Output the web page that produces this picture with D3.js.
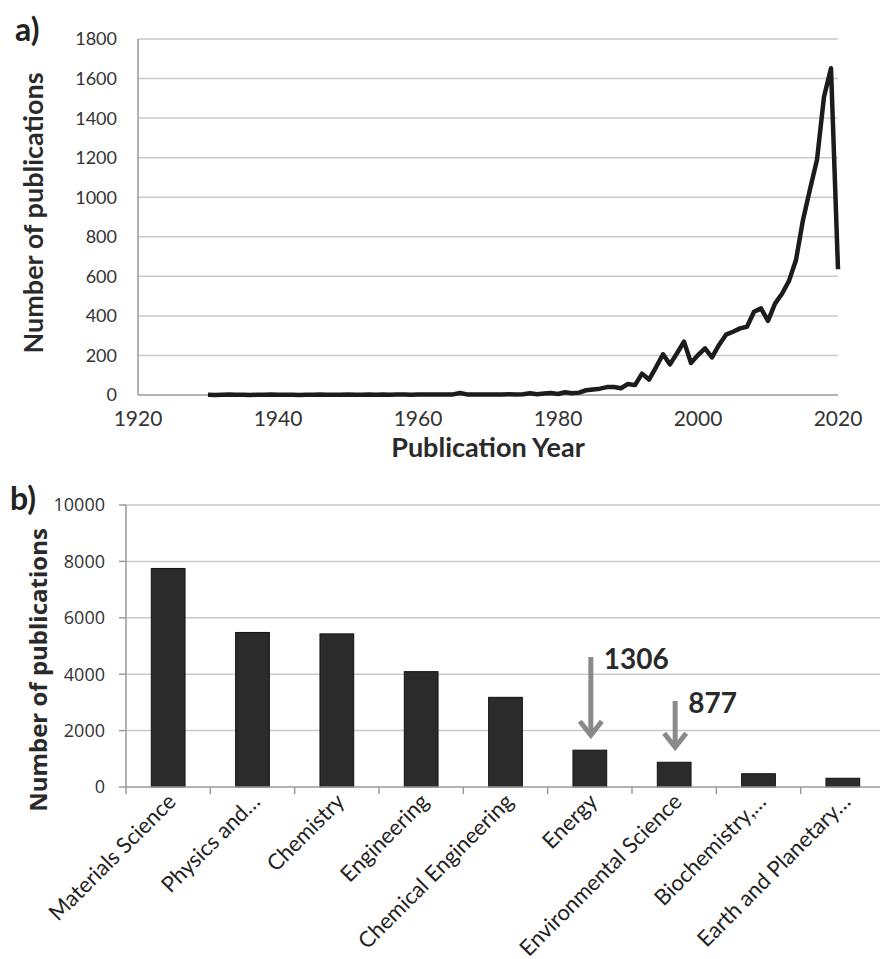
<!DOCTYPE html>
<html>
<head>
<meta charset="utf-8">
<script src="https://cdn.jsdelivr.net/npm/d3@7.9.0/dist/d3.min.js"></script>
<style>
  body { margin: 0; background: #fff; }
  svg { display: block; }
</style>
</head>
<body>
<svg id="chart" width="880" height="959"></svg>
<script>
// ---- data: panel a (publications per year) ----
const years = [
  1930, 1931, 1932, 1933, 1934, 1935, 1936, 1937, 1938, 1939,
  1940, 1941, 1942, 1943, 1944, 1945, 1946, 1947, 1948, 1949,
  1950, 1951, 1952, 1953, 1954, 1955, 1956, 1957, 1958, 1959,
  1960, 1961, 1962, 1963, 1964, 1965, 1966, 1967, 1968, 1969,
  1970, 1971, 1972, 1973, 1974, 1975, 1976, 1977, 1978, 1979,
  1980, 1981, 1982, 1983, 1984, 1985, 1986, 1987, 1988, 1989,
  1990, 1991, 1992, 1993, 1994, 1995, 1996, 1997, 1998, 1999,
  2000, 2001, 2002, 2003, 2004, 2005, 2006, 2007, 2008, 2009,
  2010, 2011, 2012, 2013, 2014, 2015, 2016, 2017, 2018, 2019,
  2020
];
const pubsPerYear = [
  1, 0, 1, 2, 1, 1, 0, 1, 1, 2,
  1, 1, 1, 0, 1, 1, 2, 1, 1, 1,
  2, 1, 1, 2, 1, 2, 1, 2, 2, 1,
  2, 2, 3, 2, 3, 3, 10, 3, 2, 3,
  2, 3, 3, 4, 3, 4, 9, 4, 8, 10,
  5, 14, 9, 12, 24, 28, 32, 40, 40, 34,
  56, 50, 108, 78, 140, 206, 155, 211, 270, 162,
  202, 236, 190, 253, 305, 320, 337, 345, 421, 438,
  375, 462, 512, 577, 683, 885, 1040, 1190, 1508, 1652,
  636
];
const yearTicks = [1920, 1940, 1960, 1980, 2000, 2020];
const countTicksA = [0, 200, 400, 600, 800, 1000, 1200, 1400, 1600, 1800];

// ---- data: panel b (publications per subject area) ----
const subjects = [
  "Materials Science", "Physics and\u2026", "Chemistry", "Engineering",
  "Chemical Engineering", "Energy", "Environmental Science",
  "Biochemistry,\u2026", "Earth and Planetary\u2026"
];
const subjectCounts = [7750, 5480, 5430, 4090, 3180, 1306, 877, 470, 310];
const countTicksB = [0, 2000, 4000, 6000, 8000, 10000];
const calloutSubjects = ["Energy", "Environmental Science"];
const calloutLabels = ["1306", "877"];
const calloutFrom = [4610, 3050];

const svg = d3.select('#chart');
const gridColor = '#c9c9c9';
const axisColor = '#9a9a9a';
const gill = 'Lato, "Open Sans", sans-serif';
const calibri = '"Open Sans", Lato, sans-serif';

// ================= panel a =================
const xA = d3.scaleLinear().domain([1920, 2020]).range([138, 838]);
const yA = d3.scaleLinear().domain([0, 1800]).range([395, 39]);

const gA = svg.append('g');

gA.selectAll('line.grid')
  .data(countTicksA.filter(d => d > 0))
  .join('line')
  .attr('class', 'grid')
  .attr('x1', xA(1920)).attr('x2', xA(2020))
  .attr('y1', d => yA(d)).attr('y2', d => yA(d))
  .attr('stroke', gridColor).attr('stroke-width', 1.5);

// axis lines
gA.append('line')
  .attr('x1', xA(1920)).attr('x2', xA(1920))
  .attr('y1', yA(1800)).attr('y2', yA(0))
  .attr('stroke', axisColor).attr('stroke-width', 1.5);
gA.append('line')
  .attr('x1', xA(1920)).attr('x2', xA(2020))
  .attr('y1', yA(0)).attr('y2', yA(0))
  .attr('stroke', axisColor).attr('stroke-width', 1.5);

gA.selectAll('text.ytick')
  .data(countTicksA)
  .join('text')
  .attr('class', 'ytick')
  .attr('x', 117)
  .attr('y', d => yA(d))
  .attr('dy', '0.36em')
  .attr('text-anchor', 'end')
  .attr('font-family', gill)
  .attr('font-size', 18)
  .attr('fill', '#333')
  .text(d => d);

gA.selectAll('text.xtick')
  .data(yearTicks)
  .join('text')
  .attr('class', 'xtick')
  .attr('x', d => xA(d))
  .attr('y', 426)
  .attr('text-anchor', 'middle')
  .attr('font-family', gill)
  .attr('font-size', 21)
  .attr('fill', '#333')
  .text(d => d);

const line = d3.line()
  .x((d, i) => xA(years[i]))
  .y(d => yA(d));

gA.append('path')
  .datum(pubsPerYear)
  .attr('d', line)
  .attr('fill', 'none')
  .attr('stroke', '#1c1c1c')
  .attr('stroke-width', 4.5)
  .attr('stroke-linejoin', 'round');

gA.append('text')
  .attr('x', xA(1970))
  .attr('y', 457)
  .attr('text-anchor', 'middle')
  .attr('font-family', gill)
  .attr('font-weight', 'bold')
  .attr('font-size', 27)
  .attr('fill', '#2a2a2a')
  .text('Publication Year');

gA.append('text')
  .attr('transform', 'translate(43,213) rotate(-90)')
  .attr('text-anchor', 'middle')
  .attr('font-family', gill)
  .attr('font-weight', 'bold')
  .attr('font-size', 27)
  .attr('fill', '#2a2a2a')
  .text('Number of publications');

gA.append('text')
  .attr('x', 15).attr('y', 41)
  .attr('font-family', gill)
  .attr('font-weight', 'bold')
  .attr('font-size', 32)
  .attr('fill', '#222')
  .text('a)');

// ================= panel b =================
const xB = d3.scaleBand().domain(subjects).range([126, 885])
  .paddingInner(0.6).paddingOuter(0.3);
const yB = d3.scaleLinear().domain([0, 10000]).range([787, 505]);
const step = xB.step();

const gB = svg.append('g');

gB.selectAll('line.grid')
  .data(countTicksB.filter(d => d > 0))
  .join('line')
  .attr('class', 'grid')
  .attr('x1', 126).attr('x2', 885)
  .attr('y1', d => yB(d)).attr('y2', d => yB(d))
  .attr('stroke', gridColor).attr('stroke-width', 1.5);

// y ticks (left)
gB.selectAll('line.ytickmark')
  .data(countTicksB)
  .join('line')
  .attr('class', 'ytickmark')
  .attr('x1', 119).attr('x2', 126)
  .attr('y1', d => yB(d)).attr('y2', d => yB(d))
  .attr('stroke', axisColor).attr('stroke-width', 1.5);

gB.append('line')
  .attr('x1', 126).attr('x2', 126)
  .attr('y1', yB(10000)).attr('y2', yB(0))
  .attr('stroke', axisColor).attr('stroke-width', 1.5);

gB.selectAll('rect.bar')
  .data(subjects)
  .join('rect')
  .attr('class', 'bar')
  .attr('x', d => xB(d))
  .attr('width', xB.bandwidth())
  .attr('y', (d, i) => yB(subjectCounts[i]))
  .attr('height', (d, i) => yB(0) - yB(subjectCounts[i]))
  .attr('fill', '#2b2b2b')
  .attr('stroke', '#111')
  .attr('stroke-width', 1);

gB.append('line')
  .attr('x1', 126).attr('x2', 885)
  .attr('y1', yB(0)).attr('y2', yB(0))
  .attr('stroke', axisColor).attr('stroke-width', 1.5);

// category boundary ticks below the axis
gB.selectAll('line.xtickmark')
  .data(subjects)
  .join('line')
  .attr('class', 'xtickmark')
  .attr('x1', d => xB(d) - xB.paddingOuter() * step)
  .attr('x2', d => xB(d) - xB.paddingOuter() * step)
  .attr('y1', yB(0)).attr('y2', yB(0) + 7)
  .attr('stroke', axisColor).attr('stroke-width', 1.5);

gB.selectAll('text.ytick')
  .data(countTicksB)
  .join('text')
  .attr('class', 'ytick')
  .attr('x', 105)
  .attr('y', d => yB(d))
  .attr('dy', '0.36em')
  .attr('text-anchor', 'end')
  .attr('font-family', calibri)
  .attr('font-size', 18)
  .attr('fill', '#333')
  .text(d => d);

gB.selectAll('text.xlabel')
  .data(subjects)
  .join('text')
  .attr('class', 'xlabel')
  .attr('transform', d => `translate(${xB(d) + xB.bandwidth() / 2 + 9},${yB(0) + 16}) rotate(-45)`)
  .attr('text-anchor', 'end')
  .attr('font-family', gill)
  .attr('font-size', 22)
  .attr('fill', '#222')
  .text(d => d);

// callout arrows
calloutSubjects.forEach((s, k) => {
  const i = subjects.indexOf(s);
  const cx = xB(s) + xB.bandwidth() / 2 + 1;
  const y0 = yB(calloutFrom[k]);
  const y1 = yB(subjectCounts[i]) - 15;
  gB.append('line')
    .attr('x1', cx).attr('x2', cx)
    .attr('y1', y0).attr('y2', y1 - 2)
    .attr('stroke', '#8a8a8a').attr('stroke-width', 5);
  gB.append('path')
    .attr('d', `M${cx - 11},${y1 - 14} L${cx},${y1} L${cx + 11},${y1 - 14}`)
    .attr('fill', 'none')
    .attr('stroke', '#8a8a8a').attr('stroke-width', 5);
  gB.append('text')
    .attr('x', cx + 13)
    .attr('y', y0 + 12)
    .attr('font-family', gill)
    .attr('font-weight', 'bold')
    .attr('font-size', 28)
    .attr('fill', '#2a2a2a')
    .text(calloutLabels[k]);
});

gB.append('text')
  .attr('transform', 'translate(47,670) rotate(-90)')
  .attr('text-anchor', 'middle')
  .attr('font-family', calibri)
  .attr('font-weight', 'bold')
  .attr('font-size', 24)
  .attr('fill', '#2a2a2a')
  .text('Number of publications');

gB.append('text')
  .attr('x', 10).attr('y', 510)
  .attr('font-family', gill)
  .attr('font-weight', 'bold')
  .attr('font-size', 32)
  .attr('fill', '#222')
  .text('b)');
</script>
</body>
</html>
